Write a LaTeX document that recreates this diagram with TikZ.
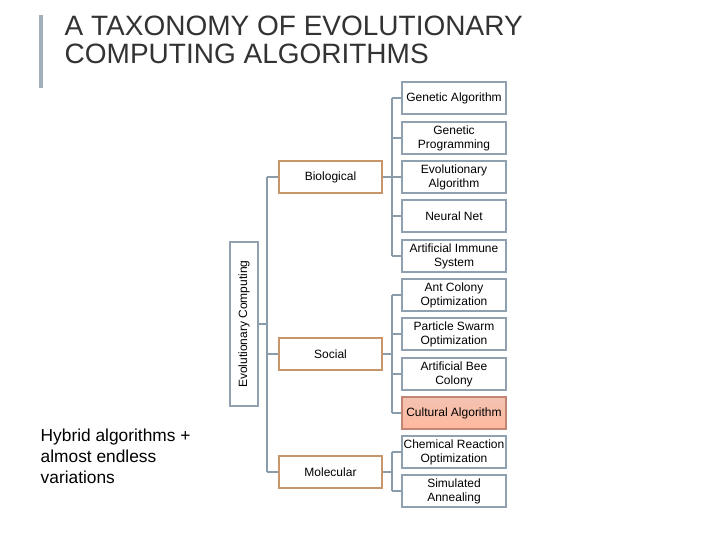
\documentclass[tikz,border=0pt]{standalone}
\usepackage{fontspec}
\setmainfont{Liberation Sans}
\begin{document}
\begin{tikzpicture}[x=0.75pt,y=-0.75pt,
  lk/.style={draw=lnk,line width=2pt},
  leaf/.style={draw=leafc,line width=1.3pt,fill=white,minimum width=104*0.75pt,minimum height=32*0.75pt,align=center,font=\fontsize{9}{10.5}\selectfont,inner sep=1pt},
  mid/.style={draw=midc,line width=1.3pt,fill=white,minimum width=103*0.75pt,minimum height=32*0.75pt,font=\fontsize{9}{10.5}\selectfont}]
\definecolor{lnk}{HTML}{8A9BAA}
\definecolor{leafc}{HTML}{8FA0B0}
\definecolor{midc}{HTML}{C8966A}
\definecolor{cult}{HTML}{F0A890}
\definecolor{ttl}{HTML}{333333}
\useasboundingbox (0,0) rectangle (720,540);
\fill[fill=lnk!80] (39,15) rectangle (43,88);
\node[anchor=west,text=ttl,align=left,font=\fontsize{21}{21}\selectfont] (title) at (60,40) {A TAXONOMY OF EVOLUTIONARY\\COMPUTING ALGORITHMS};
\node[anchor=west,align=left,font=\fontsize{13}{15.8}\selectfont] (hyb) at (36,456) {Hybrid algorithms +\\almost endless\\variations};
\node[draw=leafc,line width=1.3pt,minimum width=28*0.75pt,minimum height=164*0.75pt,inner sep=0pt] (ec) at (244,324) {};
\node[rotate=90,font=\fontsize{9}{10}\selectfont] (ect) at (244,324) {Evolutionary Computing};
\node[mid] (bio) at (330.5,177) {Biological};
\node[mid] (soc) at (330.5,354) {Social};
\node[mid] (mol) at (330.5,472) {Molecular};
\foreach \n/\y/\t in {ga/98/Genetic Algorithm,gp/138/Genetic\\Programming,ea/177/Evolutionary\\Algorithm,nn/216/Neural Net,ais/256/Artificial Immune\\System,aco/295/Ant Colony\\Optimization,pso/334/Particle Swarm\\Optimization,abc/374/Artificial Bee\\Colony,cro/452/Chemical Reaction\\Optimization,sa/491/Simulated\\Annealing}
  \node[leaf] (\n) at (454,\y) {\t};
\node[leaf,top color=cult!70,bottom color=cult!110!black,draw=cult!80!black] (ca) at (454,413) {Cultural Algorithm};
% trunk
\coordinate (t1) at (267,177); \coordinate (t2) at (267,472);
\draw[lk] (t1) -- (t2);
\draw[lk] (ec.east) -- (ec.east -| t1);
\foreach \m in {bio,soc,mol} \draw[lk] (\m.west -| t1) -- (\m.west);
% groups
\def\bx{392}
\draw[lk] (\bx,98) -- (\bx,256);
\draw[lk] (bio.east) -- (\bx,177);
\foreach \n in {ga,gp,ea,nn,ais} \draw[lk] (\n.west -| {\bx,0}) -- (\n.west);
\draw[lk] (\bx,295) -- (\bx,413);
\draw[lk] (soc.east) -- (\bx,354);
\foreach \n in {aco,pso,abc,ca} \draw[lk] (\n.west -| {\bx,0}) -- (\n.west);
\draw[lk] (\bx,452) -- (\bx,491);
\draw[lk] (mol.east) -- (\bx,472);
\foreach \n in {cro,sa} \draw[lk] (\n.west -| {\bx,0}) -- (\n.west);
\end{tikzpicture}
\end{document}
